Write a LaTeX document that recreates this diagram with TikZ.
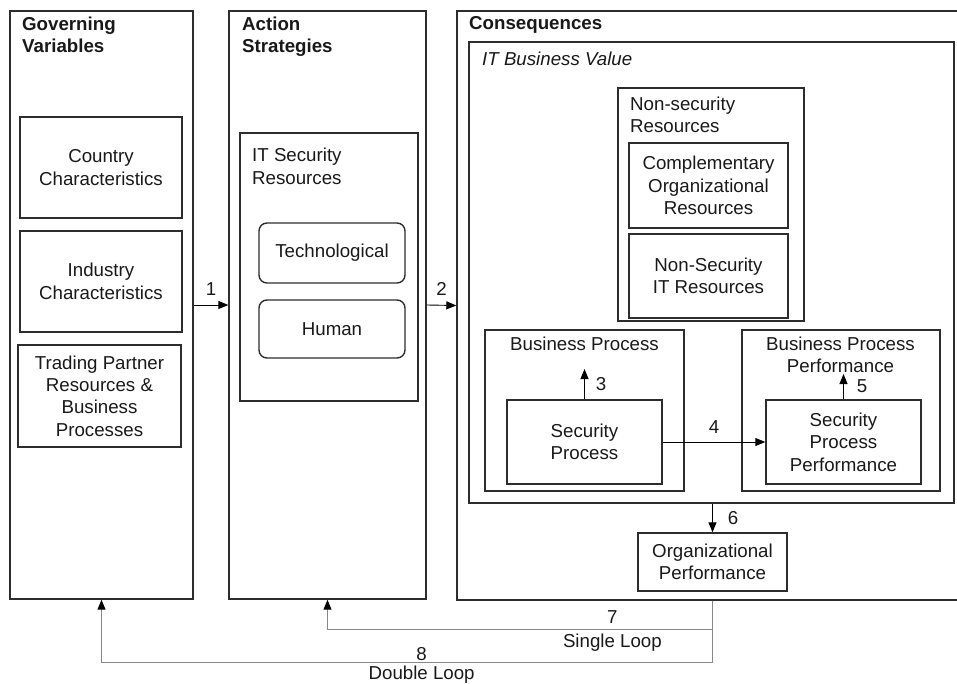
\documentclass[tikz,border=0pt]{standalone}
\usepackage{fontspec}
\setmainfont{Liberation Sans}
\usetikzlibrary{arrows.meta,positioning}

\definecolor{boxline}{RGB}{45,45,45}
\definecolor{loopline}{RGB}{135,135,135}
\definecolor{ink}{RGB}{25,25,25}

\begin{document}
\begin{tikzpicture}[x=1pt,y=1pt,yscale=-1,xscale=1,
  panel/.style={draw=boxline, line width=1.4pt, rectangle, inner sep=0pt},
  item/.style={panel, align=center, text=ink, font=\fontsize{18.7}{22.4}\selectfont},
  heading/.style={anchor=north west, align=left, inner sep=0pt, text=ink, font=\fontsize{18.7}{22}\selectfont\bfseries},
  caption/.style={align=left, inner sep=0pt, text=ink, font=\fontsize{18.7}{22.4}\selectfont},
  tag/.style={inner sep=0pt, text=ink, font=\fontsize{18.7}{22.4}\selectfont},
  link/.style={draw=black, line width=0.9pt, -{Triangle[length=10pt,width=8pt]}},
  loop/.style={draw=loopline, line width=1pt, -{Triangle[length=10pt,width=8pt,color=black]}}
]
\useasboundingbox (0,0) rectangle (957,684);
\clip (0,0) rectangle (957,684);

% three columns
\node[panel, minimum width=183, minimum height=588] (gov) at (101.5,305) {};
\node[panel, minimum width=197, minimum height=588] (act) at (327.5,305) {};
\node[panel, minimum width=505, minimum height=589] (cons) at (709.5,305.5) {};
\node[heading] (govtitle) at (22,16.5) {Governing\\Variables};
\node[heading] (acttitle) at (242,16.5) {Action\\Strategies};
\node[heading] (constitle) at (469,16.5) {Consequences};

% governing variables
\node[item, minimum width=162, minimum height=101] (country) at (101,167.5) {Country\\Characteristics};
\node[item, minimum width=162, minimum height=101] (industry) at (101,281.5) {Industry\\Characteristics};
\node[item, minimum width=163, minimum height=102] (partner) at (99.5,396) {Trading Partner\\Resources \&\\Business\\Processes};

% action strategies
\node[panel, minimum width=178, minimum height=268] (itsec) at (329,267) {};
\node[caption, anchor=north west] (itsectitle) at (252,148) {IT Security\\Resources};
\node[item, rounded corners=8pt, minimum width=146, minimum height=60] (tech) at (332,253) {Technological};
\node[item, rounded corners=8pt, minimum width=146, minimum height=58] (human) at (332,329) {Human};

% consequences
\node[panel, minimum width=485, minimum height=461] (itbv) at (711.5,272.5) {};
\node[caption, anchor=north west, font=\fontsize{18.7}{22.4}\selectfont\itshape] (itbvtitle) at (482,51.5) {IT Business Value};

\node[panel, minimum width=186, minimum height=233] (nonsec) at (711,204.5) {};
\node[caption, anchor=north west] (nonsectitle) at (630,96.5) {Non-security\\Resources};
\node[item, minimum width=159, minimum height=85] (compl) at (708.5,185.5) {Complementary\\Organizational\\Resources};
\node[item, minimum width=159, minimum height=84] (nsit) at (708.5,276) {Non-Security\\IT Resources};

\node[panel, minimum width=199, minimum height=161] (bp) at (584.5,410.5) {};
\node[caption, anchor=north, align=center] (bptitle) at (584.5,336.5) {Business Process};
\node[item, minimum width=155, minimum height=84] (sp) at (584.5,442) {Security\\Process};

\node[panel, minimum width=198, minimum height=161] (bpp) at (841,410.5) {};
\node[caption, anchor=north, align=center] (bpptitle) at (840.5,336.5) {Business Process\\Performance};
\node[item, minimum width=155, minimum height=84] (spp) at (843.5,442) {Security\\Process\\Performance};

\node[item, minimum width=149, minimum height=58] (org) at (712.5,562) {Organizational\\Performance};

\coordinate (bpin) at (584.5,369);
\coordinate (bppin) at (843.5,374);

% numbered links
\draw[link] (gov.east) -- node[tag, above=9pt] (n1) {1} (act.west);
\draw[link] (act.east) -- node[tag, above=9pt] (n2) {2} (cons.west);
\draw[link] (sp.north) -- node[tag, right=11pt] (n3) {3} (bpin);
\draw[link] (sp.east) -- node[tag, above=8pt] (n4) {4} (spp.west);
\draw[link] (spp.north) -- node[tag, right=13pt] (n5) {5} (bppin);
\draw[link] (org.north |- itbv.south) -- node[tag, right=15pt] (n6) {6} (org.north);

% feedback loops
\draw[loop] (org.north |- cons.south) -- ++(0,29) -| node[pos=0.13, tag, above=6pt] (n7) {7}
  node[pos=0.13, tag, below=4pt] (single) {Single Loop} (act.south);
\draw[loop] (org.north |- cons.south) -- ++(0,62) -| node[pos=0.238, tag, above=2pt] (n8) {8}
  node[pos=0.238, tag, below=3pt] (double) {Double Loop} (gov.south);

\end{tikzpicture}
\end{document}
